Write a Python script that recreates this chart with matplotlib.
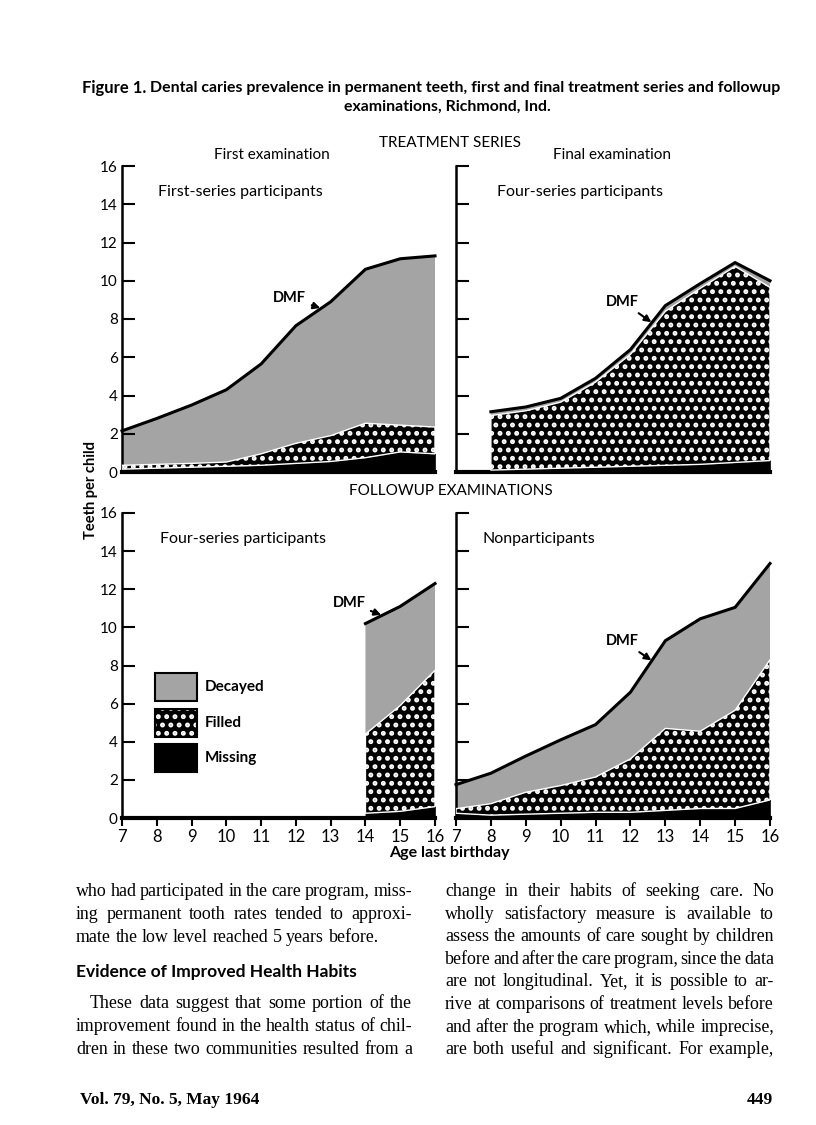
import numpy as np
import matplotlib
matplotlib.use("Agg")
import matplotlib.pyplot as plt
from matplotlib.patches import Rectangle

plt.rcParams['font.family'] = ['Lato', 'DejaVu Sans']
plt.rcParams['hatch.linewidth'] = 2.3

W, H = 816, 1125

# ages (last birthday)
ages = [7, 8, 9, 10, 11, 12, 13, 14, 15, 16]

# treatment series - first examination, first-series participants
first_ages = ages
first_missing = [0.15, 0.20, 0.25, 0.30, 0.35, 0.45, 0.55, 0.75, 1.05, 0.95]
first_filled = [0.20, 0.20, 0.20, 0.22, 0.60, 1.05, 1.35, 1.80, 1.40, 1.40]
first_decayed = [1.80, 2.40, 3.05, 3.78, 4.70, 6.15, 7.00, 8.05, 8.70, 8.95]

# treatment series - final examination, four-series participants
final_ages = [8, 9, 10, 11, 12, 13, 14, 15, 16]
final_missing = [0.10, 0.15, 0.20, 0.25, 0.30, 0.35, 0.40, 0.50, 0.60]
final_filled = [2.85, 3.05, 3.45, 4.45, 5.85, 8.05, 9.20, 10.25, 9.05]
final_decayed = [0.20, 0.20, 0.20, 0.20, 0.25, 0.30, 0.25, 0.20, 0.35]

# followup - four-series participants
follow_ages = [14, 15, 16]
follow_missing = [0.25, 0.35, 0.60]
follow_filled = [4.15, 5.55, 7.15]
follow_decayed = [5.80, 5.20, 4.55]

# followup - nonparticipants
non_ages = ages
non_missing = [0.25, 0.15, 0.20, 0.25, 0.30, 0.30, 0.40, 0.50, 0.50, 0.95]
non_filled = [0.24, 0.60, 1.15, 1.45, 1.85, 2.80, 4.30, 4.05, 5.15, 7.35]
non_decayed = [1.26, 1.60, 1.90, 2.40, 2.75, 3.50, 4.60, 5.90, 5.40, 5.05]

y_ticks = [0, 2, 4, 6, 8, 10, 12, 14, 16]

DECAYED = '#a4a4a4'

fig = plt.figure(figsize=(W / 100, H / 100), dpi=100)
fig.patch.set_facecolor('white')


def px(x, y):
    return x / W, 1 - y / H


def add_ax(x0, y0, x1, y1):
    return fig.add_axes([x0 / W, 1 - y1 / H, (x1 - x0) / W, (y1 - y0) / H])


def draw_panel(ax, x, missing, filled, decayed, dmf_at, dmf_text):
    x = np.array(x, dtype=float)
    m = np.array(missing)
    f = m + np.array(filled)
    d = f + np.array(decayed)
    ax.fill_between(x, 0, m, facecolor='black', edgecolor='black', linewidth=0.5, zorder=2)
    ax.fill_between(x, m, f, facecolor='black', edgecolor='white', hatch='..',
                    linewidth=1.0, zorder=3)
    ax.fill_between(x, f, d, facecolor=DECAYED, edgecolor='none', linewidth=0, zorder=1)
    ax.plot(x, d, color='black', lw=2.2, solid_joinstyle='miter', zorder=4, clip_on=False)
    # DMF pointer
    ax.annotate('DMF', xy=(dmf_at, np.interp(dmf_at, x, d) + 0.05), xytext=dmf_text,
                fontsize=10.5, fontweight='bold', ha='right', va='center', zorder=5,
                arrowprops=dict(arrowstyle='-|>', color='black', lw=1.5,
                                mutation_scale=10, shrinkA=2, shrinkB=0))


def style_ax(ax, ylabels, xlabels):
    ax.set_xlim(7, 16)
    ax.set_ylim(0, 16)
    ax.set_facecolor('none')
    for s in ['top', 'right']:
        ax.spines[s].set_visible(False)
    ax.spines['left'].set_linewidth(1.8)
    ax.spines['bottom'].set_linewidth(3)
    ax.set_yticks(y_ticks)
    ax.tick_params(axis='y', direction='in', length=9, width=1.5, pad=3,
                   labelsize=11, labelleft=ylabels)
    if xlabels:
        ax.set_xticks(ages)
        ax.tick_params(axis='x', direction='out', length=6, width=1.5, pad=2, labelsize=12)
    else:
        ax.set_xticks([])


ax1 = add_ax(122, 166, 435, 472)
ax2 = add_ax(456, 166, 770, 472)
ax3 = add_ax(122, 513, 435, 818)
ax4 = add_ax(456, 513, 770, 818)

draw_panel(ax1, first_ages, first_missing, first_filled, first_decayed, 12.7, (12.3, 9.1))
draw_panel(ax2, final_ages, final_missing, final_filled, final_decayed, 12.6, (12.25, 8.9))
draw_panel(ax3, follow_ages, follow_missing, follow_filled, follow_decayed, 14.45, (14.0, 11.3))
draw_panel(ax4, non_ages, non_missing, non_filled, non_decayed, 12.6, (12.25, 9.3))

style_ax(ax1, True, False)
style_ax(ax2, False, False)
style_ax(ax3, True, True)
style_ax(ax4, False, True)

# panel labels
ax1.text(0.115, 0.915, 'First-series participants', transform=ax1.transAxes, fontsize=11.5, va='center')
ax2.text(0.13, 0.915, 'Four-series participants', transform=ax2.transAxes, fontsize=11.5, va='center')
ax3.text(0.12, 0.915, 'Four-series participants', transform=ax3.transAxes, fontsize=11.5, va='center')
ax4.text(0.085, 0.915, 'Nonparticipants', transform=ax4.transAxes, fontsize=11.5, va='center')

# legend boxes
legend_items = [('Decayed', 0.384), ('Filled', 0.266), ('Missing', 0.151)]
for label, yb in legend_items:
    if label == 'Decayed':
        ax3.add_patch(Rectangle((0.105, yb), 0.134, 0.092, transform=ax3.transAxes,
                                facecolor=DECAYED, edgecolor='none', lw=0, zorder=5))
    elif label == 'Filled':
        ax3.add_patch(Rectangle((0.105, yb), 0.134, 0.092, transform=ax3.transAxes,
                                facecolor='black', edgecolor='white', hatch='..', lw=0, zorder=5))
    else:
        ax3.add_patch(Rectangle((0.105, yb), 0.134, 0.092, transform=ax3.transAxes,
                                facecolor='black', edgecolor='black', lw=0, zorder=5))
    ax3.add_patch(Rectangle((0.105, yb), 0.134, 0.092, transform=ax3.transAxes,
                            facecolor='none', edgecolor='black', lw=1.5, zorder=6))
    ax3.text(0.265, yb + 0.046, label, transform=ax3.transAxes, fontsize=11,
             fontweight='bold', va='center')

# headings around the panels
fig.text(*px(82, 88), 'Figure 1.', fontsize=12, fontweight='bold', va='center')
fig.text(*px(150, 88), 'Dental caries prevalence in permanent teeth, first and final treatment series and followup',
         fontsize=11.4, fontweight='bold', va='center')
fig.text(*px(447, 107), 'examinations, Richmond, Ind.', fontsize=11.4, fontweight='bold', ha='center', va='center')
fig.text(*px(450, 143), 'TREATMENT SERIES', fontsize=11, ha='center', va='center')
fig.text(*px(272, 155), 'First examination', fontsize=11, ha='center', va='center')
fig.text(*px(612, 155), 'Final examination', fontsize=11, ha='center', va='center')
fig.text(*px(451, 491), 'FOLLOWUP EXAMINATIONS', fontsize=11, ha='center', va='center')
fig.text(*px(91, 490), 'Teeth per child', fontsize=10.5, fontweight='bold', rotation=90,
         ha='center', va='center')
fig.text(*px(449, 853), 'Age last birthday', fontsize=11.5, fontweight='bold', ha='center', va='center')

# body text, justified columns
renderer = fig.canvas.get_renderer()
body_font = dict(family='Liberation Serif', fontsize=12.9, va='baseline')


def put_line(text, x0, x1, y, justify=True):
    words = [w for w in text.split(' ') if w]
    arts = [fig.text(0, 0, w, **body_font) for w in words]
    widths = [a.get_window_extent(renderer).width for a in arts]
    space = 0.25 * body_font['fontsize'] * 100 / 72
    if justify and len(words) > 1:
        gap = max((x1 - x0 - sum(widths)) / (len(words) - 1), 2.0)
    else:
        gap = space
    x = x0
    for a, w in zip(arts, widths):
        a.set_position(px(x, y + 5))
        x += w + gap


left_lines = [
    ('who had participated in the care program, miss-', 76, True),
    ('ing permanent tooth rates tended to approxi-', 76, True),
    ('mate the low level reached 5 years before.', 76, False),
]
for i, (t, x0, j) in enumerate(left_lines):
    put_line(t, x0, 412, 891 + 23 * i, j)

fig.text(*px(76, 972), 'Evidence of Improved Health Habits', fontsize=12.5, fontweight='bold', va='center')

para_lines = [
    ('These data suggest that some portion of the', 90),
    ('improvement found in the health status of chil-', 76),
    ('dren in these two communities resulted from a', 76),
]
for i, (t, x0) in enumerate(para_lines):
    put_line(t, x0, 412, 1003 + 23 * i)

right_lines = [
    'change in their habits of seeking care.  No',
    'wholly satisfactory measure is available to',
    'assess the amounts of care sought by children',
    'before and after the care program, since the data',
    'are not longitudinal.  Yet, it is possible to ar-',
    'rive at comparisons of treatment levels before',
    'and after the program which, while imprecise,',
    'are both useful and significant.  For example,',
]
for i, t in enumerate(right_lines):
    put_line(t, 445, 774, 891 + 22.6 * i)

fig.text(*px(80, 1100), 'Vol. 79, No. 5, May 1964', family='Liberation Serif', fontsize=12.5,
         fontweight='bold', va='center')
fig.text(*px(773, 1100), '449', family='Liberation Serif', fontsize=12.5,
         fontweight='bold', ha='right', va='center')

fig.savefig('out.png', dpi=100)
